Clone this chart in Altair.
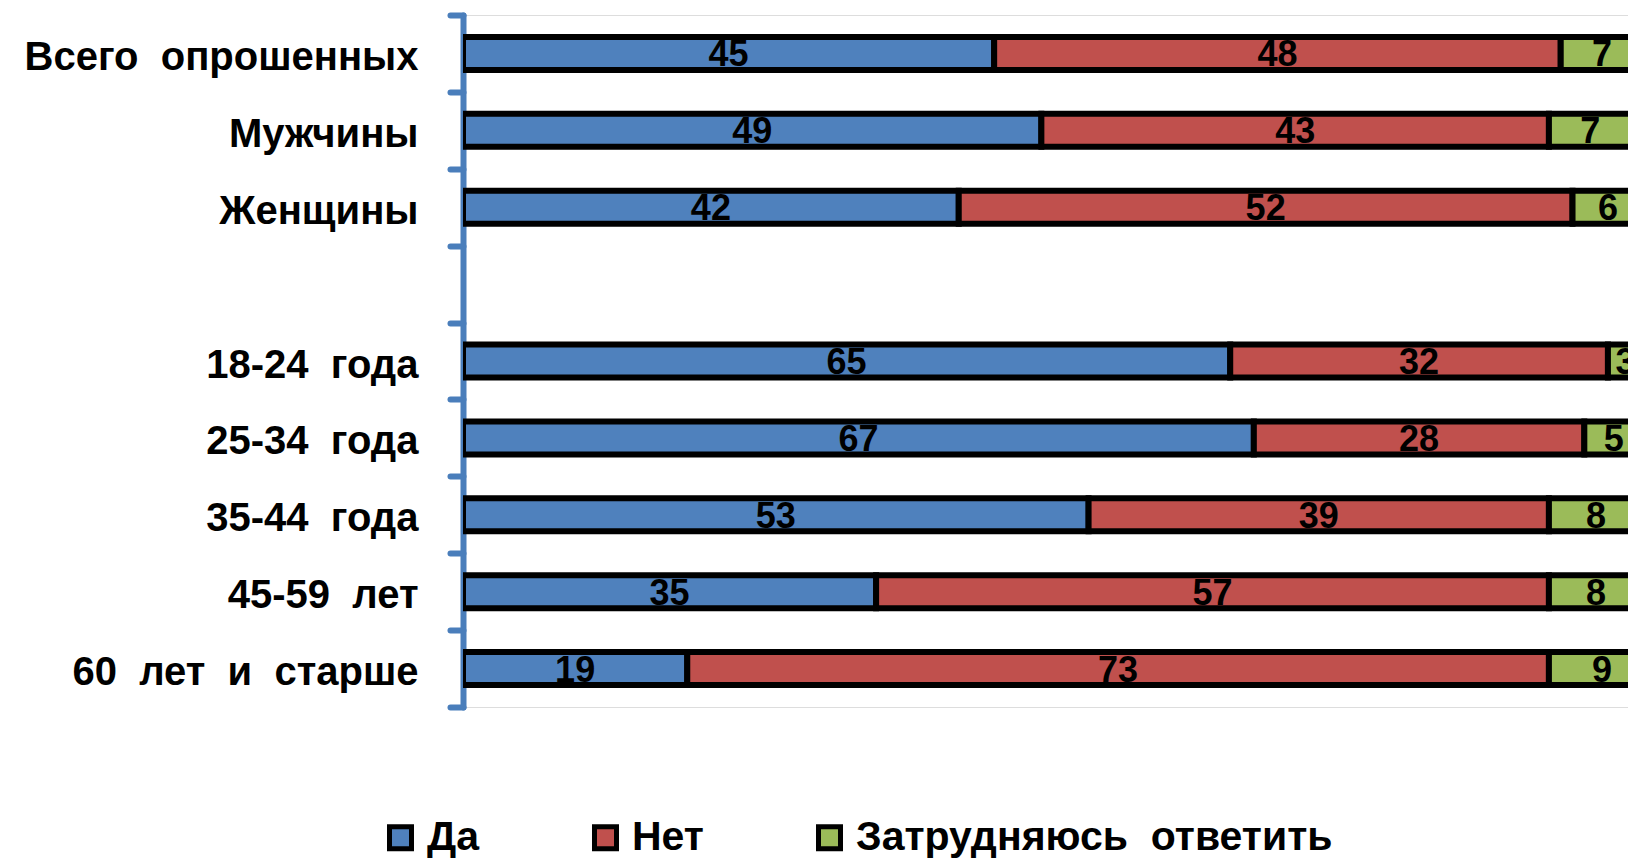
import altair as alt
import pandas as pd

S = "\u00a0\u00a0"
groups = ["Всего" + S + "опрошенных", "Мужчины", "Женщины",
          "18-24" + S + "года", "25-34" + S + "года", "35-44" + S + "года",
          "45-59" + S + "лет", "60" + S + "лет" + S + "и" + S + "старше"]
categories = groups[:3] + ["\u00a0"] + groups[3:]

answers = ["Да", "Нет", "Затрудняюсь" + S + "ответить"]
colors = ["#4f81bd", "#c0504d", "#9bbb59"]

da = [45, 49, 42, 65, 67, 53, 35, 19]
net = [48, 43, 52, 32, 28, 39, 57, 73]
zatr = [7, 7, 6, 3, 5, 8, 8, 9]

rows = []
for i, g in enumerate(groups):
    for k, (a, vals) in enumerate(zip(answers, [da, net, zatr])):
        rows.append({"group": g, "answer": a, "order": k, "value": vals[i]})
df = pd.DataFrame(rows)

FONT = "Liberation Sans"
AXIS_BLUE = "#4a7ebb"
XMAX = 98.7

base = alt.Chart(df).transform_stack(
    stack="value", groupby=["group"], as_=["v0", "v1"],
    sort=[alt.SortField("order", order="ascending")]
).transform_calculate(mid="(datum.v0 + datum.v1) / 2")

yenc = alt.Y(
    "group:N",
    sort=categories,
    scale=alt.Scale(domain=categories, paddingInner=0, paddingOuter=0),
    axis=alt.Axis(
        title=None, grid=False,
        domainColor=AXIS_BLUE, domainWidth=6, domainCap="round",
        tickColor=AXIS_BLUE, tickWidth=6, tickCap="round", tickSize=13,
        tickBand="extent",
        labelFont=FONT, labelFontWeight="bold", labelFontSize=40,
        labelColor="black", labelPadding=32, labelBaseline="middle",
        labelOffset=4, labelLimit=0,
    ),
)

xscale = alt.Scale(domain=[0, XMAX], nice=False, zero=True)
xaxis = alt.Axis(labels=False, ticks=False, grid=False, domain=False, title=None)

bars = base.mark_bar(size=33, stroke="black", strokeWidth=6, clip=True).encode(
    x=alt.X("v0:Q", scale=xscale, axis=xaxis),
    x2="v1:Q",
    y=yenc,
    color=alt.Color(
        "answer:N",
        scale=alt.Scale(domain=answers, range=colors),
        legend=alt.Legend(
            title=None, orient="none", legendX=-83, legendY=802,
            direction="horizontal", symbolType="square", symbolSize=484,
            symbolStrokeColor="black", symbolStrokeWidth=5,
            labelFont=FONT, labelFontSize=41, labelFontWeight="bold",
            labelColor="black", labelOffset=6, columnPadding=104,
            padding=0, labelLimit=0,
        ),
    ),
)

labels = base.mark_text(
    font=FONT, fontWeight="bold", fontSize=36, color="black",
    baseline="middle", dy=2, clip=True,
).encode(
    x=alt.X("mid:Q", scale=xscale, axis=xaxis),
    y=yenc,
    text=alt.Text("value:Q"),
)

chart = alt.layer(bars, labels).properties(
    width=1165, height=692,
    autosize=alt.AutoSizeParams(type="none"),
    padding={"left": 455, "top": 7, "right": 0, "bottom": 153},
).configure_view(stroke="#d9d9d9", strokeWidth=1.5).configure(background="white")

chart.save("out.html", embed_options={"renderer": "svg", "actions": False})
